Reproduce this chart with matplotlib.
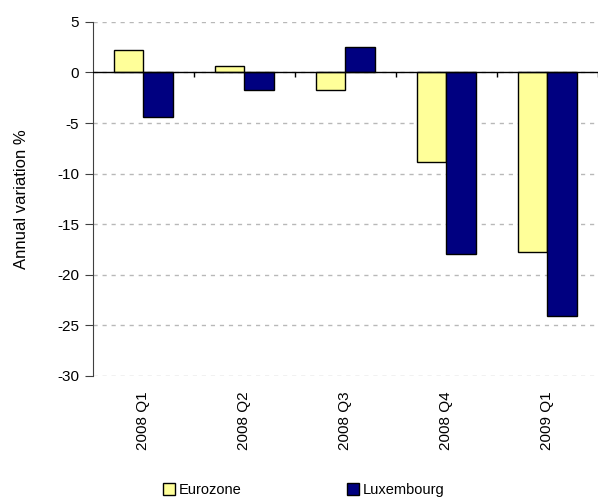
import matplotlib
matplotlib.use('Agg')
import matplotlib.pyplot as plt
import numpy as np
from matplotlib.patches import Patch

plt.rcParams['font.family'] = ['Liberation Sans', 'DejaVu Sans']

quarters = ['2008 Q1', '2008 Q2', '2008 Q3', '2008 Q4', '2009 Q1']
eurozone = [2.2, 0.6, -1.7, -8.8, -17.7]
luxembourg = [-4.4, -1.7, 2.5, -17.9, -24.1]
yticks = [5, 0, -5, -10, -15, -20, -25, -30]

fig = plt.figure(figsize=(5.99, 4.98), dpi=100)
ax = fig.add_axes([0.155, 0.245, 0.843, 0.711])

x = np.arange(len(quarters))
w = 0.29
ax.bar(x - w/2, eurozone, w, color='#ffff99', edgecolor='black', linewidth=1, zorder=3)
ax.bar(x + w/2, luxembourg, w, color='#000080', edgecolor='black', linewidth=1, zorder=3)

ax.set_xlim(-0.5, len(quarters) - 0.5)
ax.set_ylim(-30, 5)
ax.set_yticks(yticks)
ax.set_yticklabels([str(v) for v in yticks], fontsize=11)
ax.yaxis.grid(True, color='#b8b8b8', linestyle=(0, (3, 3.5)), linewidth=1)
ax.set_axisbelow(True)

# category axis crosses at zero
ax.axhline(0, color='black', linewidth=1, zorder=4)
bounds = np.arange(len(quarters) + 1) - 0.5
ax.vlines(bounds[1:], 0, -0.45, color='black', linewidth=1, zorder=4)

ax.set_xticks(x)
ax.set_xticklabels(quarters, rotation=90, fontsize=11)
ax.tick_params(axis='x', length=0, pad=11)
ax.tick_params(axis='y', length=6, direction='out', color='#404040', pad=4)

for s in ['top', 'right', 'bottom']:
    ax.spines[s].set_visible(False)
ax.spines['left'].set_color('#404040')

ax.set_ylabel('Annual variation %', fontsize=12, labelpad=20)

handles = [Patch(facecolor='#ffff99', edgecolor='black', label='Eurozone'),
           Patch(facecolor='#000080', edgecolor='black', label='Luxembourg')]
fig.legend(handles=handles, loc='lower left', bbox_to_anchor=(0.25, -0.025), ncol=2,
           frameon=False, fontsize=10.5, handlelength=0.85, handleheight=0.85,
           handletextpad=0.25, columnspacing=7.2)

fig.savefig('out.png', dpi=100)
